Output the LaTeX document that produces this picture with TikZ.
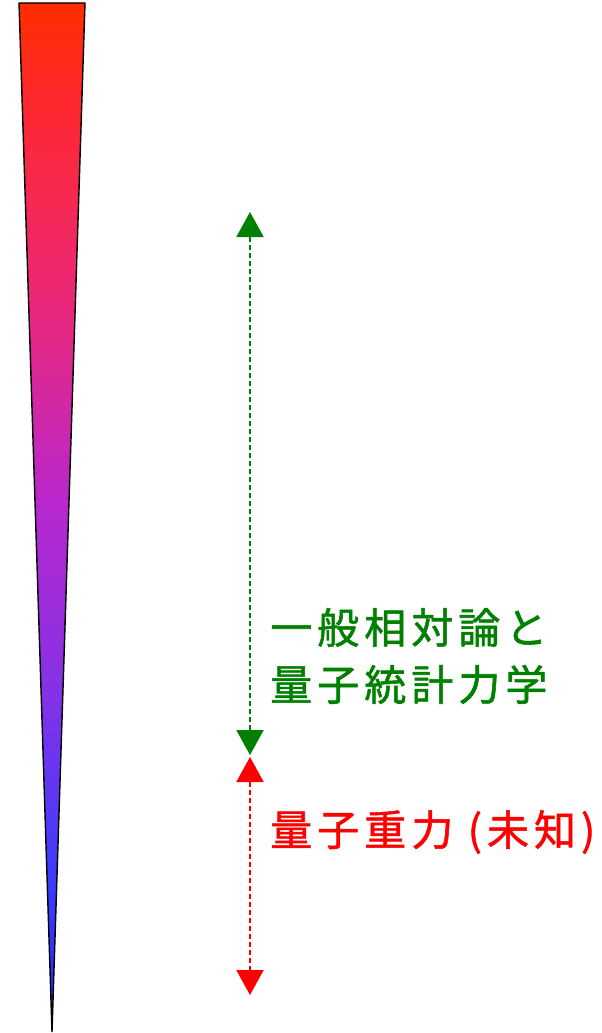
\documentclass[tikz,border=0pt]{standalone}
\usepackage{fontspec}
\newfontfamily\cjk[LetterSpace=12,FakeBold=1.3]{Noto Sans CJK JP}
\usetikzlibrary{arrows.meta}
\definecolor{cA}{RGB}{255,45,0}
\definecolor{cB}{RGB}{255,40,45}
\definecolor{cC}{RGB}{235,40,120}
\definecolor{cD}{RGB}{185,40,205}
\definecolor{cE}{RGB}{130,50,232}
\definecolor{cF}{RGB}{60,60,255}
\definecolor{cG}{RGB}{40,40,255}
\definecolor{dgreen}{RGB}{0,128,0}
\pgfdeclareverticalshading{wedgegrad}{100bp}{color(0bp)=(cG); color(25bp)=(cG); color(32.4bp)=(cF); color(41.1bp)=(cE); color(50.8bp)=(cD); color(60.5bp)=(cC); color(70.3bp)=(cB); color(75bp)=(cA); color(100bp)=(cA)}
\tikzset{
  span/.style={dashed, dash pattern=on 5pt off 3pt, line width=2pt, {Triangle[width=27pt,length=25pt]}-{Triangle[width=27pt,length=25pt]}},
  lbl/.style={anchor=west, inner sep=0pt, font=\cjk\fontsize{42}{57}\selectfont, align=left}
}
\begin{document}
\begin{tikzpicture}[x=1pt,y=-1pt]
\useasboundingbox (0,0) rectangle (602,1033);
\shade[shading=wedgegrad] (19,3) -- (85,3) -- (52,1032) -- cycle;
\draw[line width=1.4pt, line join=miter] (19,3) -- (85,3) -- (52,1032) -- cycle;
\coordinate (gtop) at (250,212);
\coordinate (gbot) at (250,755);
\coordinate (rtop) at (250,757);
\coordinate (rbot) at (250,995);
\draw[span, dgreen] (gtop) -- (gbot);
\draw[span, red] (rtop) -- (rbot);
\node[lbl, text=dgreen] (gr) at (270,656) {一般相対論と\\量子統計力学};
\node[lbl, text=red] (qg) at (270,832) {量子重力 (未知)};
\end{tikzpicture}
\end{document}
